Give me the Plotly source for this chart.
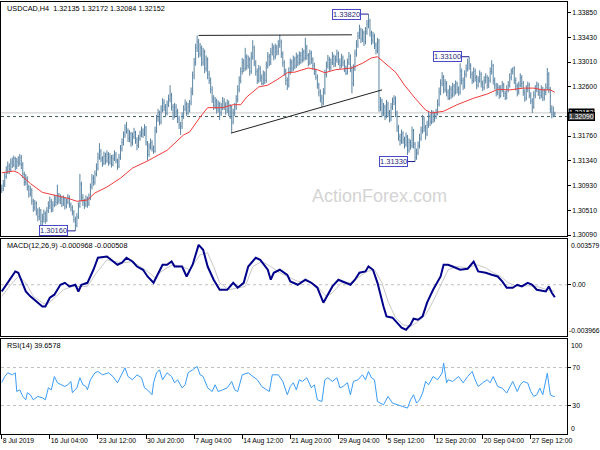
import plotly.graph_objects as go

# ---------------- data (prices in 1e-4 units) ----------------
tick_idx = [0, 32, 64, 96, 128, 160, 192, 224, 256, 288, 320, 352]
tick_text = ["8 Jul 2019", "16 Jul 04:00", "23 Jul 12:00", "30 Jul 20:00", "7 Aug 04:00",
             "14 Aug 12:00", "21 Aug 20:00", "29 Aug 04:00", "5 Sep 12:00", "12 Sep 20:00",
             "20 Sep 04:00", "27 Sep 12:00"]

opens = [
13084,13088,13095,13108,13118,13125,13120,13132,13128,13138,
13125,13133,13130,13140,13128,13112,13098,13105,13090,13078,
13085,13066,13055,13062,13048,13040,13050,13032,13038,13045,
13035,13050,13058,13066,13052,13060,13070,13064,13075,13068,
13072,13062,13070,13058,13065,13073,13060,13055,13048,13035,
13025,13040,13058,13095,13072,13065,13060,13070,13062,13072,
13090,13105,13098,13112,13122,13140,13150,13138,13130,13142,
13135,13145,13132,13140,13128,13138,13145,13135,13125,13140,
13155,13165,13178,13190,13185,13172,13180,13165,13175,13182,
13170,13160,13172,13178,13185,13180,13190,13165,13145,13158,
13165,13155,13150,13185,13205,13215,13200,13220,13232,13225,
13215,13230,13238,13245,13225,13210,13225,13218,13205,13195,
13192,13210,13222,13230,13215,13225,13232,13250,13278,13300,
13325,13335,13315,13325,13300,13318,13290,13305,13280,13270,
13255,13240,13228,13235,13222,13230,13215,13225,13235,13228,
13220,13232,13218,13225,13200,13215,13225,13238,13255,13270,
13285,13300,13290,13310,13295,13305,13285,13310,13325,13300,
13285,13270,13290,13275,13265,13280,13270,13295,13310,13300,
13318,13325,13310,13325,13318,13330,13335,13315,13300,13285,
13270,13262,13285,13300,13290,13305,13295,13310,13300,13312,
13305,13318,13308,13325,13312,13300,13315,13305,13295,13285,
13275,13262,13250,13240,13232,13250,13280,13295,13305,13292,
13300,13310,13298,13305,13315,13302,13295,13308,13300,13290,
13282,13300,13310,13290,13265,13290,13315,13330,13345,13355,
13340,13350,13335,13352,13365,13370,13350,13338,13345,13330,
13320,13335,13225,13235,13215,13225,13210,13230,13215,13205,
13225,13235,13240,13215,13190,13175,13168,13180,13170,13162,
13175,13152,13165,13160,13185,13162,13140,13148,13160,13172,
13185,13205,13190,13180,13195,13210,13200,13215,13205,13210,
13215,13230,13250,13265,13275,13255,13265,13250,13240,13255,
13245,13260,13250,13265,13255,13250,13285,13270,13260,13280,
13290,13300,13295,13280,13270,13285,13275,13262,13270,13280,
13265,13258,13270,13275,13262,13270,13285,13295,13270,13262,
13250,13258,13245,13255,13262,13248,13240,13255,13262,13275,
13285,13290,13270,13260,13250,13262,13275,13265,13250,13240,
13255,13262,13245,13235,13225,13245,13255,13262,13250,13245,
13255,13240,13250,13258,13280,13255,13222,13212,13213.5]

highs = [
13094,13102,13114,13125,13133,13130,13138,13140,13143,13141,
13139,13142,13146,13144,13132,13116,13112,13108,13094,13092,
13088,13070,13068,13066,13054,13056,13053,13045,13052,13049,
13056,13066,13074,13070,13066,13077,13075,13094,13080,13078,
13075,13076,13073,13071,13078,13076,13064,13059,13051,13040,
13046,13064,13112,13099,13078,13070,13076,13074,13079,13096,
13112,13110,13118,13130,13148,13164,13154,13142,13150,13148,
13152,13149,13147,13144,13145,13152,13149,13138,13146,13161,
13172,13184,13196,13200,13189,13186,13183,13182,13190,13185,
13174,13178,13185,13192,13189,13196,13193,13168,13164,13172,
13169,13160,13192,13212,13222,13219,13228,13240,13238,13230,
13236,13246,13262,13249,13230,13232,13230,13222,13210,13200,
13216,13228,13238,13234,13232,13237,13258,13285,13308,13332,
13346,13340,13333,13329,13325,13322,13312,13309,13286,13275,
13260,13245,13242,13239,13236,13234,13232,13242,13240,13233,
13238,13236,13230,13228,13222,13232,13245,13262,13277,13292,
13308,13306,13325,13314,13312,13309,13318,13338,13329,13304,
13290,13296,13294,13280,13287,13285,13302,13318,13315,13325,
13333,13330,13332,13330,13338,13347,13339,13319,13304,13290,
13275,13292,13307,13305,13312,13310,13317,13314,13319,13318,
13325,13322,13342,13330,13316,13322,13320,13309,13300,13290,
13280,13266,13255,13246,13257,13288,13302,13313,13310,13307,
13318,13314,13312,13322,13319,13307,13315,13312,13305,13295,
13307,13318,13314,13294,13297,13322,13338,13352,13364,13359,
13357,13354,13360,13372,13382,13374,13354,13352,13349,13334,
13342,13340,13242,13239,13232,13229,13237,13234,13220,13232,
13241,13245,13243,13219,13195,13180,13187,13184,13175,13182,
13178,13172,13170,13192,13188,13166,13155,13167,13180,13192,
13212,13209,13195,13202,13217,13214,13220,13219,13217,13222,
13238,13258,13272,13284,13279,13272,13269,13255,13262,13260,
13266,13264,13270,13268,13260,13299,13290,13275,13287,13297,
13307,13310,13299,13285,13292,13290,13279,13277,13287,13284,
13270,13277,13282,13279,13276,13292,13304,13298,13275,13266,
13265,13262,13262,13269,13266,13252,13262,13269,13282,13290,
13292,13294,13275,13265,13268,13282,13279,13269,13255,13262,
13268,13266,13250,13240,13252,13262,13268,13266,13255,13262,
13259,13256,13265,13291,13284,13259,13228,13226,13217.2]

lows = [
13080,13083,13090,13104,13112,13112,13116,13122,13124,13118,
13120,13124,13126,13120,13105,13092,13093,13084,13072,13074,
13060,13048,13050,13042,13032,13034,13024,13022,13030,13028,
13031,13046,13053,13047,13048,13056,13058,13060,13062,13061,
13056,13058,13052,13054,13061,13055,13049,13042,13030,13016,
13022,13036,13055,13066,13058,13053,13056,13055,13058,13068,
13086,13092,13094,13108,13118,13136,13132,13124,13127,13128,
13131,13126,13128,13123,13125,13134,13130,13119,13122,13136,
13150,13160,13173,13180,13166,13166,13158,13160,13171,13163,
13152,13156,13168,13174,13173,13176,13160,13135,13141,13153,
13150,13146,13148,13181,13200,13194,13196,13216,13218,13208,
13211,13225,13233,13219,13203,13206,13210,13198,13188,13178,
13188,13205,13218,13210,13212,13216,13228,13245,13272,13295,
13318,13308,13310,13294,13295,13282,13285,13272,13264,13248,
13232,13220,13222,13214,13216,13203,13210,13220,13220,13212,
13215,13210,13205,13182,13196,13210,13220,13233,13250,13265,
13280,13284,13286,13288,13290,13278,13281,13305,13294,13278,
13264,13266,13268,13262,13262,13264,13266,13290,13294,13296,
13312,13304,13306,13312,13313,13325,13308,13293,13278,13262,
13254,13258,13280,13284,13286,13289,13291,13294,13296,13298,
13300,13302,13304,13305,13294,13296,13298,13288,13279,13271,
13256,13243,13233,13225,13228,13246,13275,13290,13286,13287,
13296,13292,13293,13300,13296,13289,13291,13294,13284,13279,
13280,13296,13284,13248,13260,13286,13310,13325,13340,13333,
13335,13328,13331,13347,13358,13344,13330,13332,13323,13314,
13316,13217,13218,13208,13210,13203,13206,13208,13199,13201,
13220,13228,13208,13183,13168,13160,13163,13163,13155,13158,
13144,13148,13153,13156,13155,13133,13136,13144,13155,13168,
13180,13183,13170,13176,13190,13193,13196,13198,13200,13205,
13211,13226,13245,13260,13248,13250,13243,13237,13237,13239,
13241,13243,13246,13248,13244,13246,13263,13254,13256,13275,
13285,13288,13273,13264,13266,13268,13255,13258,13266,13258,
13252,13254,13265,13256,13257,13266,13280,13263,13255,13243,
13245,13239,13241,13250,13242,13237,13238,13250,13258,13270,
13280,13264,13253,13243,13246,13258,13258,13244,13234,13236,
13250,13240,13230,13215,13222,13240,13250,13244,13238,13240,
13235,13236,13245,13254,13249,13215,13206,13208,13208.4]

closes = [
13088,13095,13108,13118,13125,13120,13132,13128,13138,13125,
13133,13130,13140,13128,13112,13098,13105,13090,13078,13085,
13066,13055,13062,13048,13040,13050,13032,13038,13045,13035,
13050,13058,13066,13052,13060,13070,13064,13075,13068,13072,
13062,13070,13058,13065,13073,13060,13055,13048,13035,13025,
13040,13058,13095,13072,13065,13060,13070,13062,13072,13090,
13105,13098,13112,13122,13140,13150,13138,13130,13142,13135,
13145,13132,13140,13128,13138,13145,13135,13125,13140,13155,
13165,13178,13190,13185,13172,13180,13165,13175,13182,13170,
13160,13172,13178,13185,13180,13190,13165,13145,13158,13165,
13155,13150,13185,13205,13215,13200,13220,13232,13225,13215,
13230,13238,13245,13225,13210,13225,13218,13205,13195,13192,
13210,13222,13230,13215,13225,13232,13250,13278,13300,13325,
13335,13315,13325,13300,13318,13290,13305,13280,13270,13255,
13240,13228,13235,13222,13230,13215,13225,13235,13228,13220,
13232,13218,13225,13200,13215,13225,13238,13255,13270,13285,
13300,13290,13310,13295,13305,13285,13310,13325,13300,13285,
13270,13290,13275,13265,13280,13270,13295,13310,13300,13318,
13325,13310,13325,13318,13330,13335,13315,13300,13285,13270,
13262,13285,13300,13290,13305,13295,13310,13300,13312,13305,
13318,13308,13325,13312,13300,13315,13305,13295,13285,13275,
13262,13250,13240,13232,13250,13280,13295,13305,13292,13300,
13310,13298,13305,13315,13302,13295,13308,13300,13290,13282,
13300,13310,13290,13265,13290,13315,13330,13345,13355,13340,
13350,13335,13352,13365,13370,13350,13338,13345,13330,13320,
13335,13225,13235,13215,13225,13210,13230,13215,13205,13225,
13235,13240,13215,13190,13175,13168,13180,13170,13162,13175,
13152,13165,13160,13185,13162,13140,13148,13160,13172,13185,
13205,13190,13180,13195,13210,13200,13215,13205,13210,13215,
13230,13250,13265,13275,13255,13265,13250,13240,13255,13245,
13260,13250,13265,13255,13250,13285,13270,13260,13280,13290,
13300,13295,13280,13270,13285,13275,13262,13270,13280,13265,
13258,13270,13275,13262,13270,13285,13295,13270,13262,13250,
13258,13245,13255,13262,13248,13240,13255,13262,13275,13285,
13290,13270,13260,13250,13262,13275,13265,13250,13240,13255,
13262,13245,13235,13225,13245,13255,13262,13250,13245,13255,
13240,13250,13258,13280,13255,13222,13212,13213.5,13215.2]

# moving average (bar index, price 1e-4)
ma_points = [(0,13114),(8,13117),(11,13114),(19,13096),(27,13081),(37,13075),(44,13071),
             (50,13066),(57,13068),(62,13080),(70,13090),(79,13105),(87,13122),(97,13134),
             (110,13152),(121,13178),(125,13183),(132,13208),(137,13224),(147,13224),
             (154,13229),(159,13229),(163,13242),(171,13259),(177,13262),(183,13271),
             (190,13283),(195,13284),(204,13291),(210,13288),(215,13283),(222,13288),
             (233,13291),(240,13299),(246,13308),(250,13310),(255,13299),(262,13284),
             (268,13262),(275,13240),(282,13220),(286,13215),(294,13218),(303,13229),
             (314,13240),(323,13247),(330,13255),(338,13254),(347,13257),(354,13257),
             (360,13254),(365,13254),(368,13250)]

# trend lines (bar index, price)
resistance_line = [(131, 1.33460), (233, 1.33470)]
support_line = [(152.5, 1.31810), (253, 1.32540)]

# labelled extremes (bar index, price)
extremes = [(244, 1.33820), (311, 1.33100), (275, 1.31330), (49, 1.30160)]

macd_points = [
(0,-0.00052),(4,0.00015),(9,0.00103),(11,0.00093),(16,-0.00052),(19,-0.00090),(24,-0.00139),
(27,-0.00168),(29,-0.00168),(32,-0.00100),(35,-0.00077),(39,0.0),(42,0.00015),(45,-0.00013),
(49,0.0),(51,-0.00052),(53,0.0),(57,0.00015),(61,0.00116),(64,0.00209),(70,0.00219),
(74,0.00180),(77,0.00155),(80,0.00170),(83,0.00209),(87,0.00180),(90,0.00141),(94,0.00116),
(97,0.00064),(101,0.00015),(103,0.00064),(107,0.00155),(110,0.00155),(113,0.00180),
(115,0.00141),(120,0.00141),(123,0.00064),(127,0.00155),(131,0.00309),(134,0.00271),
(137,0.00141),(141,0.00039),(145,-0.00039),(150,-0.00039),(154,0.00015),(157,-0.00023),
(161,0.00015),(164,0.00141),(169,0.00209),(172,0.00193),(177,0.00116),(179,0.00039),
(181,0.00093),(185,0.00116),(190,0.00077),(192,0.00026),(197,0.0),(202,0.00039),
(206,0.00015),(210,-0.00023),(214,-0.00139),(217,-0.00077),(220,-0.00013),(224,0.00039),
(227,0.00026),(232,0.0),(235,0.00039),(238,0.00093),(242,0.00103),(244,0.00141),
(247,0.00116),(250,0.00015),(254,-0.00168),(256,-0.00245),(260,-0.00255),(263,-0.00294),
(266,-0.00332),(269,-0.00348),(272,-0.00309),(274,-0.00263),(277,-0.00271),(280,-0.00245),
(283,-0.00139),(287,-0.00039),(292,0.00064),(294,0.00155),(297,0.00155),(300,0.00141),
(305,0.00116),(310,0.00124),(314,0.00180),(317,0.00103),(322,0.00093),(326,0.00077),
(330,0.00064),(333,0.00026),(336,-0.00023),(340,-0.00023),(343,0.0),(346,-0.00013),
(350,0.00015),(353,0.0),(356,-0.00039),(362,-0.00052),(364,-0.00013),(366,-0.00062),
(368,-0.000968)]

signal_points = [
(0,-0.00090),(6,0.0),(11,0.00064),(16,0.00015),(21,-0.00090),(27,-0.00139),(30,-0.00155),
(35,-0.00100),(41,-0.00039),(47,-0.00013),(52,-0.00013),(57,-0.00013),(63,0.00093),
(70,0.00193),(75,0.00180),(81,0.00170),(87,0.00180),(92,0.00141),(97,0.00103),(102,0.00054),
(105,0.00093),(110,0.00131),(114,0.00155),(120,0.00141),(125,0.00116),(132,0.00232),
(137,0.00247),(141,0.00141),(145,0.00015),(151,-0.00039),(157,-0.00023),(162,-0.00013),
(167,0.00141),(173,0.00180),(179,0.00141),(185,0.00093),(192,0.00054),(197,0.00026),
(205,0.00026),(210,-0.00013),(216,-0.00090),(220,-0.00062),(226,0.00015),(232,0.00015),
(237,0.00054),(243,0.00103),(248,0.00116),(253,0.00015),(257,-0.00129),(262,-0.00255),
(267,-0.00309),(272,-0.00322),(276,-0.00294),(282,-0.00232),(287,-0.00129),(293,0.00015),
(297,0.00116),(303,0.00141),(310,0.00131),(316,0.00155),(322,0.00131),(327,0.00093),
(332,0.00064),(337,0.00015),(343,-0.00013),(350,-0.00008),(356,-0.00013),(363,-0.00039),
(368,-0.000508)]

rsi_points = [
(0,54.2),(2,60.5),(4,64.4),(7,62.3),(9,64.4),(10,44.7),(12,46.5),(14,39.5),(16,36.0),
(17,43.4),(19,41.3),(21,36.0),(24,39.5),(27,38.1),(29,36.0),(31,48.6),(33,46.5),(35,60.5),
(37,53.9),(40,51.8),(42,50.0),(44,51.8),(46,55.3),(47,43.4),(50,48.6),(52,59.2),(54,51.8),
(56,50.0),(57,46.5),(59,57.1),(62,64.4),(64,65.8),(67,62.3),(71,64.4),(74,60.5),(77,53.9),
(79,60.5),(82,69.7),(84,60.5),(87,57.1),(90,62.3),(93,59.2),(95,48.6),(97,46.5),(100,41.3),
(101,53.9),(103,64.4),(105,67.6),(107,57.1),(110,64.4),(113,60.5),(115,53.9),(117,57.1),
(120,48.6),(122,51.8),(124,64.4),(127,67.6),(130,71.1),(132,62.3),(134,60.5),(137,48.6),
(140,44.7),(142,51.8),(144,44.7),(147,46.5),(150,48.6),(153,55.3),(155,46.5),(157,44.7),
(160,62.3),(164,64.4),(167,60.5),(170,57.1),(173,50.0),(176,46.5),(178,44.7),(180,62.3),
(184,62.3),(187,55.3),(190,41.3),(192,50.0),(194,53.9),(196,46.5),(198,57.1),(200,55.3),
(203,59.2),(206,48.6),(208,51.8),(210,36.0),(213,34.2),(215,57.1),(217,59.2),(220,55.3),
(223,59.2),(225,48.6),(227,50.0),(230,53.9),(232,41.3),(234,55.3),(237,57.1),(240,62.3),
(242,57.1),(244,65.8),(246,59.2),(248,57.1),(250,34.2),(254,30.7),(257,39.5),(260,32.5),
(264,30.7),(267,28.9),(270,27.3),(272,36.0),(274,41.3),(276,32.5),(278,36.0),(280,43.1),
(282,55.3),(284,51.8),(287,60.5),(290,57.1),(293,64.1),(294,74.6),(296,53.9),(297,57.1),
(300,55.3),(304,60.5),(307,53.9),(310,60.5),(313,65.8),(315,57.1),(317,50.0),(320,53.9),
(323,57.1),(325,53.9),(327,60.5),(330,50.0),(333,48.3),(336,43.1),(338,50.0),(340,55.3),
(343,44.7),(345,51.8),(347,55.3),(350,53.6),(352,44.7),(354,39.5),(356,41.3),(358,48.3),
(360,41.3),(363,64.0),(365,41.3),(367,39.5),(368,39.66)]

price_ticks = [1.33850, 1.33430, 1.33010, 1.32600, 1.31760, 1.31340, 1.30930, 1.30510, 1.30090]
bid_price = 1.32152
marker_price = 1.32090
macd_max, macd_min = 0.003579, -0.003966

# ---------------- figure ----------------
P = 1e4
idx = list(range(len(closes)))
BAR = "#5a84a3"
FONT = "Liberation Sans"
FS = 6.8

fig = go.Figure()
fig.add_trace(go.Ohlc(
    x=idx, open=[v / P for v in opens], high=[v / P for v in highs],
    low=[v / P for v in lows], close=[v / P for v in closes],
    increasing=dict(line=dict(color=BAR, width=1)),
    decreasing=dict(line=dict(color=BAR, width=1)),
    tickwidth=0.3, xaxis="x", yaxis="y", hoverinfo="skip"))

fig.add_trace(go.Scatter(x=[p[0] for p in ma_points], y=[p[1] / P for p in ma_points],
                         mode="lines", line=dict(color="#f03a3a", width=1),
                         xaxis="x", yaxis="y", hoverinfo="skip"))

for ln in (resistance_line, support_line):
    fig.add_trace(go.Scatter(x=[p[0] for p in ln], y=[p[1] for p in ln], mode="lines",
                             line=dict(color="#222222", width=1), xaxis="x", yaxis="y",
                             hoverinfo="skip"))

annotations = []
for bi, pr in extremes:
    fig.add_trace(go.Scatter(x=[bi - 5, bi], y=[pr, pr], mode="lines",
                             line=dict(color="#1c1c8c", width=1), xaxis="x", yaxis="y",
                             hoverinfo="skip"))
    annotations.append(dict(x=bi - 5, y=pr, xref="x", yref="y", text=f"{pr:.5f}",
                            showarrow=False, xanchor="right", yanchor="middle",
                            font=dict(family=FONT, size=7.5, color="#2a2a7a"),
                            bgcolor="white", bordercolor="#4a4ac8", borderwidth=1, borderpad=0))

fig.add_trace(go.Scatter(x=[p[0] for p in signal_points], y=[p[1] for p in signal_points],
                         mode="lines", line=dict(color="#c8c8c8", width=1),
                         xaxis="x2", yaxis="y2", hoverinfo="skip"))
fig.add_trace(go.Scatter(x=[p[0] for p in macd_points], y=[p[1] for p in macd_points],
                         mode="lines", line=dict(color="#00008b", width=2),
                         xaxis="x2", yaxis="y2", hoverinfo="skip"))
fig.add_trace(go.Scatter(x=[p[0] for p in rsi_points], y=[p[1] for p in rsi_points],
                         mode="lines", line=dict(color="#3a9cf5", width=1),
                         xaxis="x3", yaxis="y3", hoverinfo="skip"))

shapes = [
    dict(type="line", xref="paper", yref="y", x0=0, x1=1, y0=bid_price, y1=bid_price,
         line=dict(color="#c8c8c8", width=1), layer="below"),
    dict(type="line", xref="paper", yref="y", x0=0, x1=1, y0=marker_price, y1=marker_price,
         line=dict(color="#3a5a5a", width=1, dash="3px,3px"), layer="below"),
    dict(type="line", xref="paper", yref="y2", x0=0, x1=1, y0=0, y1=0,
         line=dict(color="#c0c0c0", width=1, dash="3px,3px"), layer="below"),
    dict(type="line", xref="paper", yref="y3", x0=0, x1=1, y0=70, y1=70,
         line=dict(color="#c0c0c0", width=1, dash="3px,3px"), layer="below"),
    dict(type="line", xref="paper", yref="y3", x0=0, x1=1, y0=30, y1=30,
         line=dict(color="#c0c0c0", width=1, dash="3px,3px"), layer="below"),
]

def txt(x, y, s, **kw):
    d = dict(x=x, y=y, xref="paper", yref="paper", text=s, showarrow=False,
             xanchor="left", yanchor="middle", font=dict(family=FONT, size=7.3, color="black"))
    d.update(kw)
    return d

def rlab(y, yref, s, yanchor, **kw):
    d = dict(x=1, y=y, xref="paper", yref=yref, text=s, showarrow=False, xanchor="left",
             yanchor=yanchor, xshift=2, font=dict(family=FONT, size=FS, color="black"))
    d.update(kw)
    return d

annotations += [
    txt(0.007, 0.986, "USDCAD,H4  1.32135 1.32172 1.32084 1.32152"),
    txt(0.007, 0.4363, "MACD(12,26,9) -0.000968 -0.000508"),
    txt(0.007, 0.2049, "RSI(14) 39.6578"),
    dict(x=0.6696, y=0.551, xref="paper", yref="paper", text="ActionForex.com", showarrow=False,
         xanchor="center", yanchor="middle", font=dict(family=FONT, size=18, color="#d4d4d4")),
    rlab(macd_max, "y2", f"{macd_max:.6f}", "top", yshift=-1),
    rlab(macd_min, "y2", f"{macd_min:.6f}", "bottom", xshift=0),
    rlab(100, "y3", "100", "top", yshift=-1),
    rlab(0, "y3", "0", "bottom"),
    rlab(bid_price, "y", f"{bid_price:.5f}", "middle", xshift=1, bgcolor="black", borderpad=0,
         font=dict(family=FONT, size=FS, color="white")),
    rlab(marker_price, "y", f"{marker_price:.5f}", "middle", xshift=1, bgcolor="#404040",
         borderpad=0, bordercolor="black", borderwidth=1,
         font=dict(family=FONT, size=FS, color="white")),
]

xcommon = dict(range=[-0.5, 376.1], showgrid=False, zeroline=False, showline=True,
               linecolor="black", linewidth=1, mirror=True, fixedrange=True)
ycommon = dict(showgrid=False, zeroline=False, showline=True, linecolor="black", linewidth=1,
               mirror=True, side="right", ticks="outside", ticklen=3, tickcolor="black",
               tickfont=dict(family=FONT, size=FS, color="black"), fixedrange=True)

fig.update_layout(
    width=600, height=450, margin=dict(l=1, r=33, t=2, b=16),
    paper_bgcolor="white", plot_bgcolor="white", showlegend=False,
    font=dict(family=FONT, size=FS, color="black"),
    xaxis=dict(**xcommon, domain=[0, 1], anchor="y", showticklabels=False,
               rangeslider=dict(visible=False)),
    xaxis2=dict(**xcommon, domain=[0, 1], anchor="y2", showticklabels=False, matches="x"),
    xaxis3=dict(**xcommon, domain=[0, 1], anchor="y3", matches="x", tickmode="array",
                tickvals=tick_idx, ticktext=tick_text, ticks="outside", ticklen=4,
                tickcolor="black", ticklabelposition="outside right", tickangle=0,
                tickfont=dict(family=FONT, size=FS, color="black")),
    yaxis=dict(**ycommon, domain=[0.4572, 1], range=[1.30065, 1.34024], anchor="x",
               tickmode="array", tickvals=price_ticks, ticktext=[f"{v:.5f}" for v in price_ticks]),
    yaxis2=dict(**ycommon, domain=[0.2269, 0.4525], range=[macd_min, macd_max], anchor="x2",
                tickmode="array", tickvals=[0], ticktext=["0.00"]),
    yaxis3=dict(**ycommon, domain=[0, 0.2199], range=[0, 100], anchor="x3",
                tickmode="array", tickvals=[70, 30], ticktext=["70", "30"]),
    shapes=shapes, annotations=annotations,
)

fig.write_html("out.html", config={"displayModeBar": False, "staticPlot": True},
               post_script="document.body.style.margin='0';document.body.style.overflow='hidden';")
